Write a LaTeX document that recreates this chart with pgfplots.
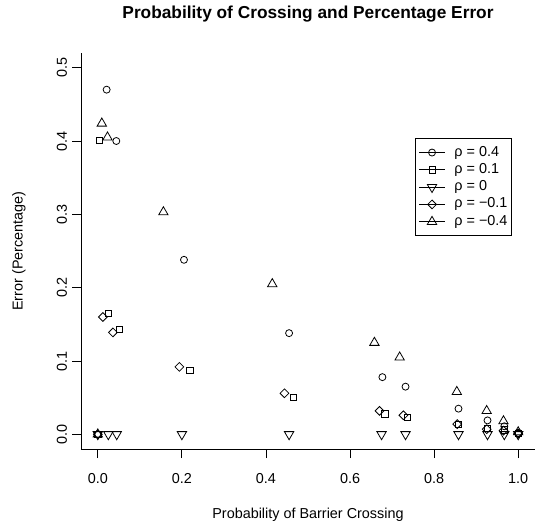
\documentclass[border=0pt]{standalone}
\usepackage{fontspec}
\setmainfont{Liberation Sans}
\usepackage{pgfplots}
\pgfplotsset{compat=1.18}
\usepackage{pgfplotstable}

\newcommand\basefont{\fontsize{14.4pt}{17pt}\selectfont}

% x = probability of barrier crossing, y = error (percentage)
\pgfplotstableread{
x y
0     0
0.021 0.470
0.044 0.400
0.205 0.238
0.455 0.138
0.677 0.078
0.732 0.065
0.858 0.035
0.927 0.019
0.967 0.011
1.000 0.002
}\rhoA
\pgfplotstableread{
x y
0     0
0.003 0.401
0.025 0.165
0.052 0.143
0.219 0.087
0.465 0.050
0.683 0.028
0.737 0.023
0.858 0.014
0.927 0.008
0.967 0.006
1.000 0.001
}\rhoB
\pgfplotstableread{
x y
0     0
0.025 0
0.045 0
0.200 0
0.455 0
0.675 0
0.732 0
0.858 0
0.927 0
0.967 0
1.000 0
}\rhoC
\pgfplotstableread{
x y
0     0
0.012 0.160
0.036 0.139
0.194 0.092
0.444 0.056
0.670 0.032
0.727 0.026
0.855 0.014
0.925 0.007
0.965 0.005
1.000 0.001
}\rhoD
\pgfplotstableread{
x y
0      0
0.0095 0.424
0.023  0.405
0.156  0.303
0.415  0.205
0.658  0.125
0.718  0.105
0.854  0.058
0.925  0.032
0.965  0.018
1.000  0.003
}\rhoE

\pgfplotsset{
  rleg/.style={legend image code/.code={
    \draw[black, line width=0.8pt] (0pt,0pt) -- (26pt,0pt);
    \draw[##1] plot coordinates {(13pt,0pt)};
  }},
  pts/.style={only marks, black, line width=0.8pt, rleg},
}

\begin{document}
\basefont
\begin{tikzpicture}
\useasboundingbox (0,0) rectangle (535pt,530pt);
\begin{axis}[
  at={(81pt,81pt)}, anchor=south west,
  scale only axis, width=454pt, height=396pt,
  xmin=-0.04, xmax=1.04, ymin=-0.02, ymax=0.52,
  axis x line*=bottom, axis y line*=left,
  axis line style={-, line width=0.8pt},
  tick align=outside, major tick length=9pt,
  tick style={black, line width=0.8pt},
  xtick={0,0.2,0.4,0.6,0.8,1}, xticklabels={0.0,0.2,0.4,0.6,0.8,1.0},
  ytick={0,0.1,0.2,0.3,0.4,0.5}, yticklabels={0.0,0.1,0.2,0.3,0.4,0.5},
  tick label style={font=\basefont},
  xticklabel style={yshift=-10pt},
  yticklabel style={rotate=90, anchor=south},
  title={Probability of Crossing and Percentage Error},
  title style={at={(axis description cs:0.5,1.082)}, anchor=center,
    font=\fontsize{17.3pt}{20pt}\selectfont\bfseries},
  xlabel={Probability of Barrier Crossing},
  xlabel style={at={(axis description cs:0.5,-0.1666)}, anchor=center, font=\basefont},
  ylabel={Error (Percentage)},
  ylabel style={at={(axis description cs:-0.1366,0.5)}, anchor=center, font=\basefont},
  legend cell align=left,
  legend style={at={(0.949,0.785)}, anchor=north east, draw=black,
    line width=0.8pt, inner xsep=3pt, inner ysep=6.5pt, row sep=2.3pt,
    nodes={inner sep=1pt, text height=10pt, text depth=3pt, font=\basefont},
    /tikz/every odd column/.append style={column sep=8pt}},
]
\addplot[pts, mark=o, mark size=3.5pt] table {\rhoA};
\addlegendentry{ρ = 0.4}
\addplot[pts, mark=square, mark size=3.1pt] table {\rhoB};
\addlegendentry{ρ = 0.1}
\addplot[pts, mark=triangle, mark size=5.4pt, mark options={rotate=180}] table {\rhoC};
\addlegendentry{ρ = 0}
\addplot[pts, mark=square, mark size=3.1pt, mark options={rotate=45}] table {\rhoD};
\addlegendentry{ρ = −0.1}
\addplot[pts, mark=triangle, mark size=5.4pt] table {\rhoE};
\addlegendentry{ρ = −0.4}
\end{axis}
\end{tikzpicture}
\end{document}
